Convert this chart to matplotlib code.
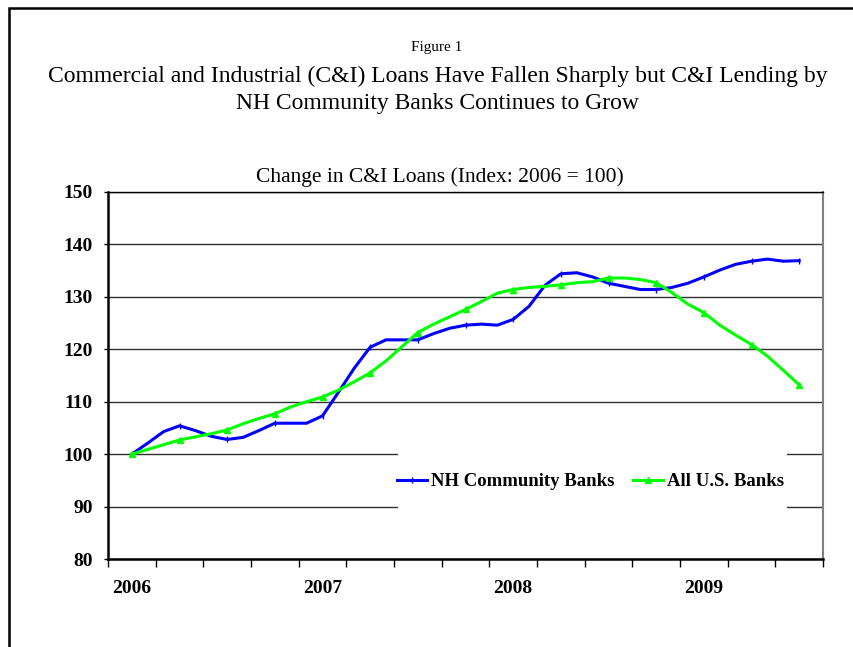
import matplotlib
matplotlib.use('Agg')
from matplotlib import pyplot as plt
from matplotlib.patches import Rectangle
from matplotlib.lines import Line2D
import numpy as np

# monthly index values, category positions 1..43 on a 45-slot axis
months = np.arange(1, 44)

nh_banks = [100.0, 102.1, 104.3, 105.4, 104.5, 103.4, 102.8, 103.2, 104.5, 105.9,
            105.9, 105.9, 107.3, 111.8, 116.4, 120.4, 121.8, 121.8, 121.8, 123.0,
            124.0, 124.6, 124.8, 124.6, 125.7, 128.2, 132.2, 134.4, 134.6, 133.8,
            132.6, 132.0, 131.4, 131.4, 131.8, 132.6, 133.8, 135.1, 136.2, 136.8,
            137.2, 136.8, 136.9]

us_banks = [100.0, 100.9, 101.8, 102.7, 103.3, 103.9, 104.6, 105.8, 106.8, 107.7,
            109.0, 110.0, 110.9, 112.2, 113.8, 115.5, 117.8, 120.5, 123.2, 124.8,
            126.2, 127.6, 129.1, 130.7, 131.4, 131.8, 132.0, 132.3, 132.7, 132.9,
            133.6, 133.6, 133.3, 132.7, 130.8, 128.6, 127.0, 124.6, 122.7, 120.9,
            118.7, 116.0, 113.2]

year_labels = ['2006', '2007', '2008', '2009']
year_pos = [1, 13, 25, 37]
y_ticks = [80, 90, 100, 110, 120, 130, 140, 150]

serif = 'Liberation Serif'

fig = plt.figure(figsize=(8.54, 6.47), dpi=100)

# outer frame running off the right and bottom edges
fig.patches.append(Rectangle((9 / 854, -0.1), 1.2, 1.1 - 8 / 647,
                             transform=fig.transFigure, fill=False,
                             edgecolor='black', linewidth=1.8, zorder=0))

xc = 437 / 854
fig.text(xc, 1 - 47 / 647, 'Figure 1', ha='center', va='center',
         family=serif, fontsize=11)
fig.text(xc + 1 / 854, 1 - 76 / 647,
         'Commercial and Industrial (C&I) Loans Have Fallen Sharply but C&I Lending by',
         ha='center', va='center', family=serif, fontsize=17)
fig.text(xc, 1 - 103 / 647, 'NH Community Banks Continues to Grow',
         ha='center', va='center', family=serif, fontsize=17)
fig.text(440 / 854, 1 - 177 / 647, 'Change in C&I Loans (Index: 2006 = 100)',
         ha='center', va='center', family=serif, fontsize=15.5)

ax = fig.add_axes([108 / 854, 1 - 559 / 647, 715 / 854, 367 / 647])

ax.plot(months, nh_banks, color='#0000ff', linewidth=2.2, marker='|',
        markersize=4, markeredgewidth=1, markevery=3,
        label='NH Community Banks', zorder=3)
ax.plot(months, us_banks, color='#00ff00', linewidth=2.2, marker='^',
        markersize=5, markevery=3, label='All U.S. Banks', zorder=3)

ax.set_xlim(-0.5, 44.5)
ax.set_ylim(80, 150)
ax.set_yticks(y_ticks)
ax.set_yticklabels([str(v) for v in y_ticks], family=serif,
                   fontweight='bold', fontsize=14)
ax.tick_params(axis='y', length=3, pad=8, width=1)

# quarter boundaries as ticks, years labelled in between
ax.set_xticks(np.arange(-0.5, 45, 3))
ax.set_xticklabels([])
ax.tick_params(axis='x', which='major', length=6, width=1, direction='out')
ax.set_xticks(year_pos, minor=True)
ax.set_xticklabels(year_labels, minor=True, family=serif,
                   fontweight='bold', fontsize=14)
ax.tick_params(axis='x', which='minor', length=0, pad=15)

ax.grid(axis='y', color='#303030', linewidth=1)
ax.set_axisbelow(True)
for side in ['left', 'bottom']:
    ax.spines[side].set_linewidth(1.8)
    ax.spines[side].set_color('black')
ax.spines['top'].set_linewidth(1)
ax.spines['right'].set_color('#808080')
ax.spines['right'].set_linewidth(1.5)

# white patch behind the legend hides the gridlines
ax.add_patch(Rectangle((0.4056, 0.12), 0.544, 0.18, transform=ax.transAxes,
                       facecolor='white', edgecolor='none', zorder=2))

handles = [Line2D([], [], color='#0000ff', linewidth=2.2, marker='|', markersize=4),
           Line2D([], [], color='#00ff00', linewidth=2.2, marker='^', markersize=4)]
ax.legend(handles, ['NH Community Banks', 'All U.S. Banks'], ncol=2,
          loc='center', bbox_to_anchor=(0.675, 0.21), frameon=False,
          prop={'family': serif, 'weight': 'bold', 'size': 13.5},
          handlelength=1.6, handletextpad=0.2, columnspacing=1.0)

plt.savefig('out.png', dpi=100)
plt.close(fig)
